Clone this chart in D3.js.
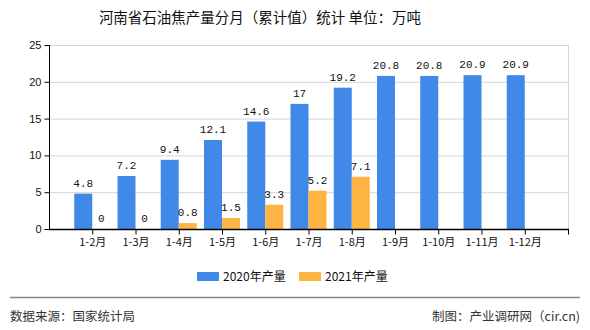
<!DOCTYPE html>
<html>
<head>
<meta charset="utf-8">
<script src="https://cdn.jsdelivr.net/npm/d3@7/dist/d3.min.js"></script>
<style>
  html, body { margin: 0; padding: 0; background: #fff; }
  svg { display: block; }
</style>
</head>
<body>
<svg id="chart" width="590" height="330"></svg>
<script>
// Monthly cumulative petroleum coke output, Henan (10k tonnes)
const months = ["1-2月", "1-3月", "1-4月", "1-5月", "1-6月", "1-7月", "1-8月", "1-9月", "1-10月", "1-11月", "1-12月"];
const output2020 = [4.8, 7.2, 9.4, 12.1, 14.6, 17, 19.2, 20.8, 20.8, 20.9, 20.9];
const output2021 = [0, 0, 0.8, 1.5, 3.3, 5.2, 7.1, null, null, null, null];
const seriesNames = ["2020年产量", "2021年产量"];
const yTicks = [0, 5, 10, 15, 20, 25];

(function () {
const colors = ["#4189e9", "#fdb443"];
const svg = d3.select("#chart");

const plotLeft = 49, plotRight = 568, plotTop = 45, plotBottom = 229;
const barW = 18;

const x = d3.scalePoint().domain(months).range([plotLeft, plotRight]).padding(1);
const y = d3.scaleLinear().domain([0, 25]).range([plotBottom, plotTop]);

// title
svg.append("text")
  .attr("x", 260).attr("y", 23)
  .attr("text-anchor", "middle")
  .attr("font-family", "'Noto Sans CJK SC', sans-serif")
  .attr("font-size", 14.5)
  .attr("fill", "#111")
  .text("河南省石油焦产量分月（累计值）统计 单位：万吨");

// horizontal grid
svg.append("g").selectAll("line").data(yTicks.filter(d => d > 0)).join("line")
  .attr("x1", plotLeft).attr("x2", plotRight)
  .attr("y1", d => y(d) + 0.5).attr("y2", d => y(d) + 0.5)
  .attr("stroke", "#d6d6d6").attr("stroke-width", 1);

// right border
svg.append("line")
  .attr("x1", plotRight + 0.5).attr("x2", plotRight + 0.5)
  .attr("y1", plotTop).attr("y2", plotBottom)
  .attr("stroke", "#d6d6d6");

// bars
const series = [output2020, output2021];
series.forEach((vals, si) => {
  const data = months.map((m, i) => ({ m, v: vals[i] })).filter(d => d.v !== null);
  const g = svg.append("g");
  g.selectAll("rect").data(data).join("rect")
    .attr("x", d => x(d.m) + (si === 0 ? -barW : 0))
    .attr("y", d => y(d.v))
    .attr("width", barW)
    .attr("height", d => plotBottom - y(d.v))
    .attr("fill", colors[si]);
  g.selectAll("text").data(data).join("text")
    .attr("x", d => x(d.m) + (si === 0 ? -barW / 2 : barW / 2))
    .attr("y", d => y(d.v) - 7)
    .attr("text-anchor", "middle")
    .attr("font-family", "'Liberation Mono', 'DejaVu Sans Mono', monospace")
    .attr("font-size", 11)
    .attr("fill", "#111")
    .text(d => d.v);
});

// y axis
const yAxis = d3.axisLeft(y).tickValues(yTicks).tickSize(5).tickPadding(3);
const gy = svg.append("g").attr("transform", `translate(${plotLeft + 0.5},0)`).call(yAxis);
gy.select(".domain").attr("stroke", "#000").attr("d", `M0,${plotTop}V${plotBottom}`);
gy.selectAll(".tick line").attr("stroke", "#000");
gy.selectAll(".tick text").attr("font-family", "'Liberation Sans', Arial, sans-serif").attr("font-size", 11).attr("fill", "#111");

// x axis
const xAxis = d3.axisBottom(x).tickSize(5).tickPadding(4);
const gx = svg.append("g").attr("transform", `translate(0,${plotBottom + 0.5})`).call(xAxis);
gx.select(".domain").attr("stroke", "#000").attr("stroke-width", 1.5).attr("d", `M${plotLeft},0H${plotRight + 1}`);
gx.selectAll(".tick line").attr("stroke", "#000");
gx.selectAll(".tick text").attr("font-family", "'Noto Sans CJK SC', sans-serif").attr("font-size", 11).attr("fill", "#111");
gx.append("line").attr("x1", plotRight + 0.5).attr("x2", plotRight + 0.5).attr("y1", 0).attr("y2", 5).attr("stroke", "#000");

// legend
const legendX = [197, 299];
seriesNames.forEach((name, i) => {
  svg.append("rect").attr("x", legendX[i]).attr("y", 272).attr("width", 22).attr("height", 9).attr("fill", colors[i]);
  svg.append("text").attr("x", legendX[i] + 26).attr("y", 281)
    .attr("font-family", "'Noto Sans CJK SC', sans-serif").attr("font-size", 12).attr("fill", "#111")
    .text(name);
});

// footer
svg.append("line").attr("x1", 10).attr("x2", 580).attr("y1", 297.5).attr("y2", 297.5).attr("stroke", "#888").attr("stroke-width", 1.5);
svg.append("text").attr("x", 10).attr("y", 321)
  .attr("font-family", "'Noto Sans CJK SC', sans-serif").attr("font-size", 12.5).attr("fill", "#333")
  .text("数据来源：国家统计局");
svg.append("text").attr("x", 580).attr("y", 321).attr("text-anchor", "end")
  .attr("font-family", "'Noto Sans CJK SC', sans-serif").attr("font-size", 12.5).attr("fill", "#333")
  .text("制图：产业调研网（cir.cn)");
})();
</script>
</body>
</html>
